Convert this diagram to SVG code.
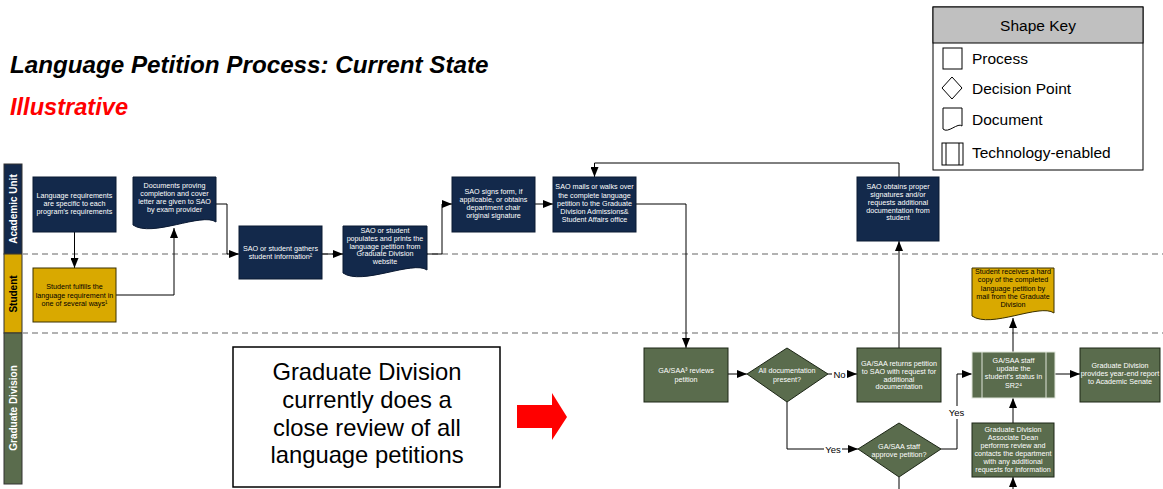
<svg xmlns="http://www.w3.org/2000/svg" width="1163" height="489" viewBox="0 0 1163 489">
<style>
text{font-family:"Liberation Sans",Arial,sans-serif}
.nv{fill:#13294b;stroke:#0b1a33;stroke-width:1}
.gd{fill:#d9a900;stroke:#3a3000;stroke-width:1}
.gr{fill:#5a6c4d;stroke:#1c2616;stroke-width:1}
.t{font-size:7.2px;fill:#fff;text-anchor:middle}
.tk{font-size:7.2px;fill:#000;text-anchor:middle}
.c{fill:none;stroke:#000;stroke-width:1}
.ca{fill:none;stroke:#000;stroke-width:1;marker-end:url(#ah)}
.dash{stroke:#999;stroke-width:1.5;stroke-dasharray:6 4;fill:none}
.lbl{font-size:9.5px;fill:#000;text-anchor:middle}
.key{font-size:15.5px;fill:#000}
.lane{font-size:10px;font-weight:bold;text-anchor:middle}
.big{font-size:23.8px;fill:#000;text-anchor:middle}
</style>
<defs>
<marker id="ah" viewBox="0 0 10 8" refX="10" refY="4" markerWidth="10" markerHeight="8" markerUnits="userSpaceOnUse" orient="auto">
<path d="M0,0 L10,4 L0,8 Z" fill="#000"/>
</marker>
</defs>
<rect width="1163" height="489" fill="#fff"/>

<g id="title">
<text x="10" y="73" font-size="24.2" font-weight="bold" font-style="italic" fill="#000">Language Petition Process: Current State</text>
<text x="10" y="115" font-size="23.6" font-weight="bold" font-style="italic" fill="#ff0000">Illustrative</text>
</g>

<g id="shape-key">
<rect x="933" y="7" width="210" height="163" fill="#fff" stroke="#000" stroke-width="1"/>
<rect x="933" y="7" width="210" height="36" fill="#c0c0c0" stroke="#000" stroke-width="1"/>
<text x="1038" y="30.5" class="key" text-anchor="middle">Shape Key</text>
<rect x="943" y="48" width="19" height="21" fill="#fff" stroke="#000"/>
<text x="972" y="64" class="key">Process</text>
<path d="M952,77 L962,88 L952,99 L942,88 Z" fill="#fff" stroke="#000"/>
<text x="972" y="94" class="key">Decision Point</text>
<path d="M943,108 H962 V126 C958,122 948,134 943,129 Z" fill="#fff" stroke="#000"/>
<text x="972" y="124.5" class="key">Document</text>
<rect x="942" y="143" width="21" height="22" fill="#fff" stroke="#000"/>
<line x1="946" y1="143" x2="946" y2="165" stroke="#000"/>
<line x1="959" y1="143" x2="959" y2="165" stroke="#000"/>
<text x="972" y="158" class="key">Technology-enabled</text>
</g>

<g id="lanes">
<rect x="4" y="164" width="18" height="90" fill="#13294b" stroke="#333"/>
<text class="lane" fill="#fff" transform="translate(17,209) rotate(-90)">Academic Unit</text>
<rect x="4" y="254" width="18" height="79" fill="#d9a900" stroke="#333"/>
<text class="lane" fill="#000" transform="translate(17,294) rotate(-90)">Student</text>
<rect x="4" y="333" width="18" height="151" fill="#5a6c4d" stroke="#333"/>
<text class="lane" fill="#fff" font-size="9.5" transform="translate(16.5,408) rotate(-90)">Graduate Division</text>
<line class="dash" x1="22" y1="254" x2="1163" y2="254"/>
<line class="dash" x1="22" y1="333" x2="1163" y2="333"/>
</g>

<g id="callout">
<rect x="233" y="347" width="267" height="140" fill="#fff" stroke="#000" stroke-width="1.5"/>
<text x="367" y="380" class="big">Graduate Division</text>
<text x="367" y="408" class="big">currently does a</text>
<text x="367" y="435.5" class="big">close review of all</text>
<text x="367" y="463" class="big">language petitions</text>
<path d="M517,405 H552 V393 L567,417 L552,440 V428 H517 Z" fill="#ff0000"/>
</g>

<g id="connectors">
<path class="ca" d="M74.5,232 V268"/>
<path class="ca" d="M116,295 H174 V228"/>
<path class="ca" d="M216,204 H227 V254 H239"/>
<path class="ca" d="M322,254 H343"/>
<path class="ca" d="M427,254 H442 V204 H452"/>
<path class="ca" d="M535,204 H553"/>
<path class="ca" d="M899,177 V163 H594.5 V177"/>
<path class="ca" d="M636,204 H686 V348"/>
<path class="ca" d="M728,374 H747"/>
<path class="ca" d="M828,374 H857"/>
<path class="ca" d="M787,402 V449 H858"/>
<path class="ca" d="M899,348 V241"/>
<path class="ca" d="M941,449 H957 V374 H972"/>
<path class="ca" d="M1055,374 H1080"/>
<path class="ca" d="M1013,423 V398"/>
<path class="ca" d="M1013,489 V477"/>
<path class="ca" d="M1013,352 V318"/>
<path class="c" d="M899,477 V489"/>
<rect x="832" y="368" width="15" height="11" fill="#fff"/>
<text x="839.5" y="377.5" class="lbl">No</text>
<rect x="824" y="443" width="18" height="11" fill="#fff"/>
<text x="833" y="452.5" class="lbl">Yes</text>
<rect x="947" y="406" width="19" height="13" fill="#fff"/>
<text x="956.5" y="416" class="lbl">Yes</text>
</g>

<g id="n1">
<rect class="nv" x="33" y="177" width="83" height="55"/>
<text class="t" x="74.5" y="197.5">Language requirements</text>
<text class="t" x="74.5" y="205.5">are specific to each</text>
<text class="t" x="74.5" y="213.5">program’s requirements</text>
</g>
<g id="n2">
<path class="nv" d="M133,177 H216 V222 C202,212 152,238 133,225 Z"/>
<text class="t" x="174.5" y="188">Documents proving</text>
<text class="t" x="174.5" y="196">completion and cover</text>
<text class="t" x="174.5" y="204">letter are given to SAO</text>
<text class="t" x="174.5" y="212">by exam provider</text>
</g>
<g id="n3">
<rect class="gd" x="33" y="268" width="83" height="54"/>
<text class="tk" x="74.5" y="289">Student fulfills the</text>
<text class="tk" x="74.5" y="297.5">language requirement in</text>
<text class="tk" x="74.5" y="306">one of several ways¹</text>
</g>
<g id="n4">
<rect class="nv" x="239" y="226" width="83" height="53"/>
<text class="t" x="280.5" y="251">SAO or student gathers</text>
<text class="t" x="280.5" y="258.5">student information²</text>
</g>
<g id="n5">
<path class="nv" d="M343,226 H427 V270 C413,260 362,286 343,273 Z"/>
<text class="t" x="385" y="232.5">SAO or student</text>
<text class="t" x="385" y="240.5">populates and prints the</text>
<text class="t" x="385" y="248.5">language petition from</text>
<text class="t" x="385" y="256">Graduate Division</text>
<text class="t" x="385" y="264">website</text>
</g>
<g id="n6">
<rect class="nv" x="452" y="177" width="83" height="55"/>
<text class="t" x="493.5" y="194">SAO signs form, if</text>
<text class="t" x="493.5" y="202">applicable, or obtains</text>
<text class="t" x="493.5" y="210">department chair</text>
<text class="t" x="493.5" y="218">original signature</text>
</g>
<g id="n7">
<rect class="nv" x="553" y="177" width="83" height="55"/>
<text class="t" x="594.5" y="189">SAO mails or walks over</text>
<text class="t" x="594.5" y="197.5">the complete language</text>
<text class="t" x="594.5" y="205.5">petition to the Graduate</text>
<text class="t" x="594.5" y="214">Division Admissions&amp;</text>
<text class="t" x="594.5" y="222">Student Affairs office</text>
</g>
<g id="n8">
<rect class="nv" x="857" y="177" width="82" height="64"/>
<text class="t" x="898" y="189">SAO obtains proper</text>
<text class="t" x="898" y="197">signatures and/or</text>
<text class="t" x="898" y="205">requests additional</text>
<text class="t" x="898" y="212.5">documentation from</text>
<text class="t" x="898" y="220">student</text>
</g>
<g id="n9">
<rect class="gr" x="644" y="348" width="84" height="54"/>
<text class="t" x="686" y="373">GA/SAA³ reviews</text>
<text class="t" x="686" y="381.5">petition</text>
</g>
<g id="n10">
<path class="gr" d="M787,348 L828,374 L787,402 L747,374 Z"/>
<text class="t" x="787" y="373">All documentation</text>
<text class="t" x="787" y="381.5">present?</text>
</g>
<g id="n11">
<rect class="gr" x="857" y="348" width="84" height="54"/>
<text class="t" x="899" y="365.5">GA/SAA returns petition</text>
<text class="t" x="899" y="373.5">to SAO with request for</text>
<text class="t" x="899" y="381.5">additional</text>
<text class="t" x="899" y="389">documentation</text>
</g>
<g id="n12">
<path class="gr" d="M899,423 L941,449 L899,477 L858,449 Z"/>
<text class="t" x="899" y="448.5">GA/SAA staff</text>
<text class="t" x="899" y="456.5">approve petition?</text>
</g>
<g id="n13">
<rect x="972" y="352" width="83" height="46" fill="#5a6c4d" stroke="#dfe5da" stroke-width="1"/>
<line x1="982" y1="352" x2="982" y2="398" stroke="#dfe5da"/>
<line x1="1046" y1="352" x2="1046" y2="398" stroke="#dfe5da"/>
<text class="t" x="1013.5" y="363">GA/SAA staff</text>
<text class="t" x="1013.5" y="371">update the</text>
<text class="t" x="1013.5" y="379">student’s status in</text>
<text class="t" x="1013.5" y="388">SR2⁴</text>
</g>
<g id="n14">
<rect class="gr" x="1080" y="348" width="80" height="54"/>
<text class="t" x="1120" y="367.5">Graduate Division</text>
<text class="t" x="1120" y="376">provides year-end report</text>
<text class="t" x="1120" y="384">to Academic Senate</text>
</g>
<g id="n15">
<rect class="gr" x="972" y="423" width="82" height="54"/>
<text class="t" x="1013" y="431.5">Graduate Division</text>
<text class="t" x="1013" y="439.5">Associate Dean</text>
<text class="t" x="1013" y="447.5">performs review and</text>
<text class="t" x="1013" y="455.5">contacts the department</text>
<text class="t" x="1013" y="463.5">with any additional</text>
<text class="t" x="1013" y="471.5">requests for information</text>
</g>
<g id="n16">
<path class="gd" d="M972,268 H1054 V313 C1040,303 991,329 972,316 Z"/>
<text class="tk" x="1013" y="274">Student receives a hard</text>
<text class="tk" x="1013" y="282">copy of the completed</text>
<text class="tk" x="1013" y="290.5">language petition by</text>
<text class="tk" x="1013" y="298.5">mail from the Graduate</text>
<text class="tk" x="1013" y="306.5">Division</text>
</g>
</svg>
